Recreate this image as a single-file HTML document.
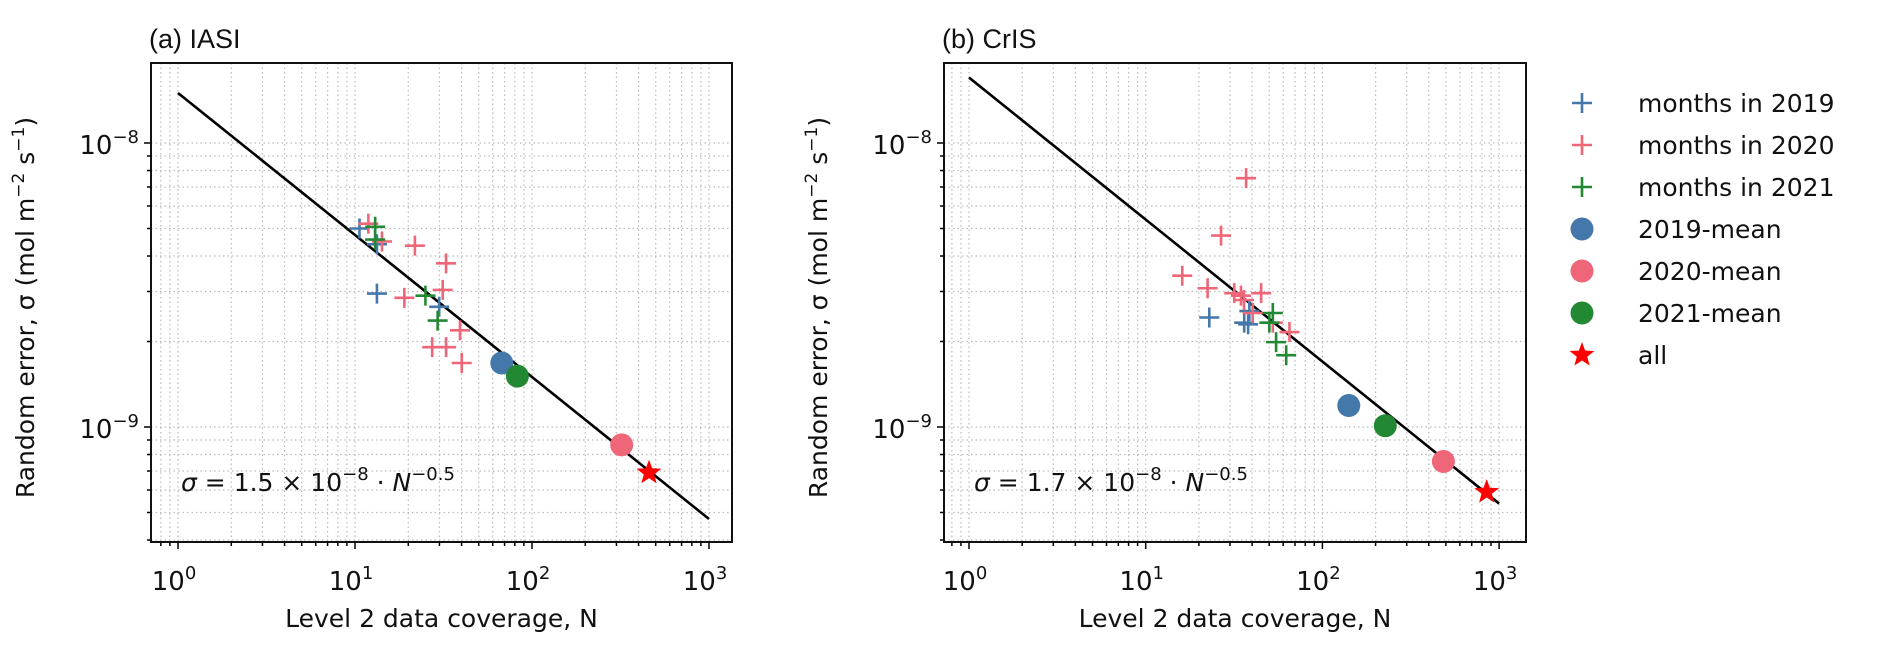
<!DOCTYPE html>
<html><head><meta charset="utf-8">
<style>
html,body{margin:0;padding:0;background:#fff;}
svg{display:block;font-family:"DejaVu Sans","Liberation Sans",sans-serif;}
</style></head>
<body>
<svg id="fig" width="1892" height="652" viewBox="0 0 1892 652" xmlns="http://www.w3.org/2000/svg"></svg>
<script>
// ---- data ----
const seriesNames = ["months in 2019","months in 2020","months in 2021","2019-mean","2020-mean","2021-mean","all"];
const seriesColors = ["#4477AA","#EE6677","#228833","#4477AA","#EE6677","#228833","#ff0000"];
// Panel (a) IASI
const iasi2019N = [10.6, 13.3, 13.3, 29.9];
const iasi2019S = [5.0e-9, 4.4e-9, 2.95e-9, 2.65e-9];
const iasi2020N = [11.9, 14.2, 21.8, 32.7, 31.3, 19.0, 39.2, 27.3, 32.7, 40.1];
const iasi2020S = [5.2e-9, 4.5e-9, 4.35e-9, 3.77e-9, 3.04e-9, 2.85e-9, 2.19e-9, 1.91e-9, 1.91e-9, 1.68e-9];
const iasi2021N = [13.0, 13.0, 25.0, 29.3];
const iasi2021S = [5.07e-9, 4.57e-9, 2.9e-9, 2.37e-9];
const iasiMeanN = [67.5, 321, 82.7];
const iasiMeanS = [1.68e-9, 8.65e-10, 1.51e-9];
const iasiAllN = [458];
const iasiAllS = [6.9e-10];
const iasiCoef = 1.5e-8;
// Panel (b) CrIS
const cris2019N = [22.9, 36.1, 38.6, 38.0];
const cris2019S = [2.43e-9, 2.33e-9, 2.56e-9, 2.3e-9];
const cris2020N = [37.0, 26.7, 16.1, 22.4, 31.7, 34.6, 45.0, 40.3, 52.4, 65.1, 36.0];
const cris2020S = [7.52e-9, 4.72e-9, 3.41e-9, 3.08e-9, 2.96e-9, 2.9e-9, 2.96e-9, 2.52e-9, 2.33e-9, 2.16e-9, 2.8e-9];
const cris2021N = [52.4, 50.1, 54.7, 62.4];
const cris2021S = [2.52e-9, 2.33e-9, 1.99e-9, 1.79e-9];
const crisMeanN = [141, 484, 227];
const crisMeanS = [1.19e-9, 7.56e-10, 1.01e-9];
const crisAllN = [851];
const crisAllS = [5.9e-10];
const crisCoef = 1.7e-8;
const xTickLabels = ["0","1","2","3"];
const yTickLabels = ["−8","−9"];

const NS="http://www.w3.org/2000/svg";
const svg=document.getElementById('fig');
function el(tag,attrs,parent,text){const e=document.createElementNS(NS,tag);for(const k in attrs)e.setAttribute(k,attrs[k]);if(text!==undefined)e.textContent=text;(parent||svg).appendChild(e);return e;}

function panel(cfg){
  const L=cfg.left,R=cfg.right,T=63,B=542;
  const x0=cfg.x0,dx=cfg.dx;
  const Y8=143,dy=284;
  const X=n=>x0+dx*Math.log10(n);
  const Y=s=>Y8-dy*(Math.log10(s)+8);
  const g=el('g',{});
  
  
  const clip=el('clipPath',{id:cfg.name+'-clip'},g);
  el('rect',{x:L,y:T,width:R-L,height:B-T},clip);
  const grid=el('g',{stroke:'#bbb','stroke-width':1.2,'stroke-dasharray':'1.5 3'},g);
  
  
  const ticks=el('g',{stroke:'#000','stroke-width':1.5},g);
  for(let d=-1;d<=3;d++){for(let m=1;m<=9;m++){const v=m*Math.pow(10,d);const px=X(v);if(px<L+1||px>R-1)continue;
    el('line',{x1:px,x2:px,y1:T,y2:B},grid);
    el('line',{x1:px,x2:px,y1:B,y2:B+(m===1?7:4)},ticks);}}
  for(let d=-11;d<=-8;d++){for(let m=1;m<=9;m++){const v=m*Math.pow(10,d);const py=Y(v);if(py<T+1||py>B-1)continue;
    el('line',{x1:L,x2:R,y1:py,y2:py},grid);
    el('line',{x1:L-(m===1?7:4),x2:L,y1:py,y2:py},ticks);}}
  xTickLabels.forEach(t=>{const px=X(Math.pow(10,+t));
    const tx=el('text',{x:px-4,y:590,'font-size':26,'text-anchor':'middle',fill:'#111'},g);
    
    
    el('tspan',{},tx,'10');el('tspan',{dy:-11,'font-size':18},tx,t);});
  yTickLabels.forEach(t=>{const py=Y(Math.pow(10,t==="−8"?-8:-9));
    const tx=el('text',{x:L-12,y:py+11,'font-size':26,'text-anchor':'end',fill:'#111'},g);
    
    
    el('tspan',{},tx,'10');el('tspan',{dy:-11,'font-size':18},tx,t);});
  const fl=el('line',{x1:X(1),y1:Y(cfg.coef),x2:X(1000),y2:Y(cfg.coef/Math.sqrt(1000)),stroke:'#000','stroke-width':2.6},g);
  
  
  const marks=el('g',{'clip-path':'url(#'+cfg.name+'-clip)'},g);
  function crosses(Ns,Ss,col,nm){Ns.forEach((n,i)=>{const cx=X(n),cy=Y(Ss[i]);
    const c=el('path',{d:`M${cx-10},${cy}H${cx+10}M${cx},${cy-10}V${cy+10}`,stroke:col,'stroke-width':2.6,fill:'none'},marks);
    
    });}
  crosses(cfg.n19,cfg.s19,seriesColors[0],'cross-2019');
  crosses(cfg.n20,cfg.s20,seriesColors[1],'cross-2020');
  crosses(cfg.n21,cfg.s21,seriesColors[2],'cross-2021');
  cfg.mn.forEach((n,i)=>{const c=el('circle',{cx:X(n),cy:Y(cfg.ms[i]),r:11.5,fill:seriesColors[3+i]},marks);
    
    });
  cfg.an.forEach((n,i)=>{const s=el('path',{d:star(X(n),Y(cfg.as[i]),13),fill:seriesColors[6]},marks);
    
    });
  const fr=el('rect',{x:L,y:T,width:R-L,height:B-T,fill:'none',stroke:'#111','stroke-width':2},g);
  
  
  const eq=el('text',{x:L+30,y:491,'font-size':25,fill:'#111'},g);
  
  
  el('tspan',{'font-style':'italic'},eq,'σ');el('tspan',{},eq,' = '+cfg.coefText+' × 10');
  el('tspan',{dy:-11,'font-size':18},eq,'−8');el('tspan',{dy:11},eq,' · ');
  el('tspan',{'font-style':'italic'},eq,'N');el('tspan',{dy:-11,'font-size':18},eq,'−0.5');
  const ti=el('text',{x:L-2,y:48,'font-size':27,fill:'#111','font-family':'Liberation Sans, sans-serif'},g,cfg.title);
  
  
  const xl=el('text',{x:(L+R)/2,y:627,'font-size':25,'text-anchor':'middle',fill:'#111'},g,'Level 2 data coverage, N');
  
  
  const yc=L-117,ym=(T+B)/2+5;
  const yl=el('text',{x:yc,y:ym,'font-size':25,'text-anchor':'middle',fill:'#111',transform:`rotate(-90 ${yc} ${ym})`},g);
  
  
  el('tspan',{},yl,'Random error, σ (mol m');el('tspan',{dy:-10,'font-size':17},yl,'−2');
  el('tspan',{dy:10},yl,' s');el('tspan',{dy:-10,'font-size':17},yl,'−1');el('tspan',{dy:10},yl,')');
}
function star(cx,cy,r){let d='';for(let i=0;i<10;i++){const a=-Math.PI/2+i*Math.PI/5;const rr=i%2?r*0.42:r;d+=(i?'L':'M')+(cx+rr*Math.cos(a)).toFixed(1)+','+(cy+rr*Math.sin(a)).toFixed(1);}return d+'Z';}

panel({name:'panel-iasi',title:'(a) IASI',left:151,right:732,x0:178,dx:177,coef:iasiCoef,coefText:'1.5',
  n19:iasi2019N,s19:iasi2019S,n20:iasi2020N,s20:iasi2020S,n21:iasi2021N,s21:iasi2021S,mn:iasiMeanN,ms:iasiMeanS,an:iasiAllN,as:iasiAllS});
panel({name:'panel-cris',title:'(b) CrIS',left:944,right:1526,x0:969,dx:176.7,coef:crisCoef,coefText:'1.7',
  n19:cris2019N,s19:cris2019S,n20:cris2020N,s20:cris2020S,n21:cris2021N,s21:cris2021S,mn:crisMeanN,ms:crisMeanS,an:crisAllN,as:crisAllS});

const lg=el('g',{});


seriesNames.forEach((nm,i)=>{const y=103+i*42,x=1582;
  const e=el('g',{},lg);
  
  
  if(i<3)el('path',{d:`M${x-10},${y}H${x+10}M${x},${y-10}V${y+10}`,stroke:seriesColors[i],'stroke-width':2.6},e);
  else if(i<6)el('circle',{cx:x,cy:y,r:11.5,fill:seriesColors[i]},e);
  else el('path',{d:star(x,y,13),fill:seriesColors[i]},e);
  el('text',{x:1638,y:y+9,'font-size':25,fill:'#111'},e,nm);
});
</script>
</body></html>
